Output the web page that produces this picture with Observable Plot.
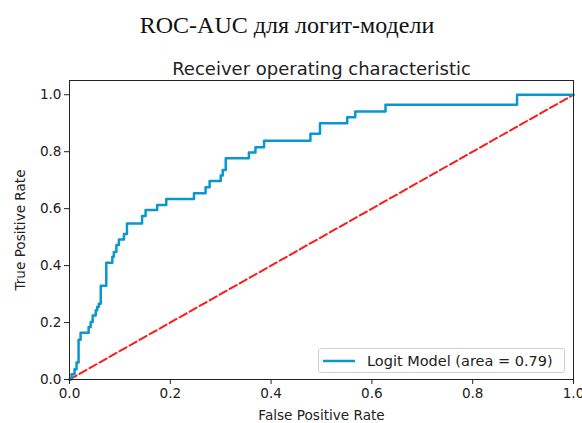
<!DOCTYPE html>
<html>
<head>
<meta charset="utf-8">
<script src="https://cdn.jsdelivr.net/npm/d3@7"></script>
<script src="https://cdn.jsdelivr.net/npm/@observablehq/plot@0.6"></script>
<style>
  body { margin: 0; background: #fff; }
  #wrap { position: relative; width: 582px; height: 423px; overflow: hidden; }
  #title { width: 574px; height: 45px; box-sizing: border-box; padding-top: 13px; text-align: center;
           font-family: "Liberation Serif", "Times New Roman", serif; font-size: 24px; line-height: 24px; color: #111; }
  #legend { position: absolute; left: 318px; top: 348px; width: 247px; height: 25px; box-sizing: border-box;
            border: 1px solid #d0d0d0; border-radius: 3px; background: rgba(255,255,255,0.85);
            display: flex; align-items: center; padding-left: 4px;
            font-family: "DejaVu Sans", sans-serif; font-size: 14.5px; color: #222; }
  #legend svg { margin-right: 12px; }
</style>
</head>
<body>
<div id="wrap">
  <div id="title">ROC-AUC для логит-модели</div>
  <div id="chart"></div>
  <div id="legend"></div>
</div>
<script>
// ROC curve points (false positive rate, true positive rate)
const fpr = [0, 0.004, 0.010, 0.014, 0.018, 0.022, 0.038, 0.042, 0.046, 0.052, 0.055, 0.058, 0.062,
  0.073, 0.085, 0.088, 0.093, 0.098, 0.108, 0.114, 0.144, 0.151, 0.174, 0.192, 0.247, 0.270, 0.278,
  0.300, 0.304, 0.310, 0.356, 0.369, 0.386, 0.478, 0.497, 0.551, 0.567, 0.627, 0.888, 1.0];
const tpr = [0, 0.018, 0.036, 0.06, 0.14, 0.164, 0.184, 0.202, 0.225, 0.243, 0.255, 0.266, 0.329,
  0.41, 0.431, 0.448, 0.472, 0.492, 0.511, 0.548, 0.574, 0.595, 0.613, 0.634, 0.654, 0.675, 0.697,
  0.716, 0.736, 0.777, 0.797, 0.816, 0.838, 0.863, 0.9, 0.921, 0.941, 0.965, 1.0, 1.0];
// Chance diagonal
const diagX = [0, 1];
const diagY = [0, 1];
const tickValues = [0, 0.2, 0.4, 0.6, 0.8, 1.0];
const chartTitle = "Receiver operating characteristic";
const xLabel = "False Positive Rate";
const yLabel = "True Positive Rate";
const legendLabel = "Logit Model (area = 0.79)";
const curveColor = "#0a97cf";

const roc = fpr.map((x, i) => ({x, y: tpr[i]}));
const diag = diagX.map((x, i) => ({x, y: diagY[i]}));

const plot = Plot.plot({
  width: 582,
  height: 378,
  marginTop: 35,
  marginBottom: 44,
  marginLeft: 69,
  marginRight: 9,
  style: {fontFamily: "DejaVu Sans, sans-serif", fontSize: "14px", color: "#222", background: "transparent"},
  x: {domain: [0, 1]},
  y: {domain: [0, 1.05]},
  marks: [
    Plot.line(diag, {x: "x", y: "y", stroke: "#ff1a1a", strokeWidth: 2, strokeDasharray: "8,3.5"}),
    Plot.line(roc, {x: "x", y: "y", curve: "step-after", stroke: curveColor, strokeWidth: 2.5}),
    Plot.frame({stroke: "#222", strokeWidth: 1}),
    Plot.axisX({ticks: tickValues, tickFormat: d3.format(".1f"), tickSize: 5, tickPadding: 4, fontSize: 13.6,
      label: xLabel, labelAnchor: "center", labelOffset: 40, labelArrow: "none"}),
    Plot.axisY({ticks: tickValues, tickFormat: d3.format(".1f"), tickSize: 5, tickPadding: 3, fontSize: 13.6,
      label: yLabel, labelAnchor: "center", labelOffset: 54, labelArrow: "none"}),
    Plot.text([chartTitle], {frameAnchor: "top", lineAnchor: "bottom", dy: -6, fontSize: 18, fill: "#222"})
  ]
});
document.getElementById("chart").appendChild(plot);

const lg = document.getElementById("legend");
lg.innerHTML = `<svg width="32" height="6"><line x1="0" x2="32" y1="3" y2="3" stroke="${curveColor}" stroke-width="2.5"/></svg><span></span>`;
lg.querySelector("span").textContent = legendLabel;
</script>
</body>
</html>
